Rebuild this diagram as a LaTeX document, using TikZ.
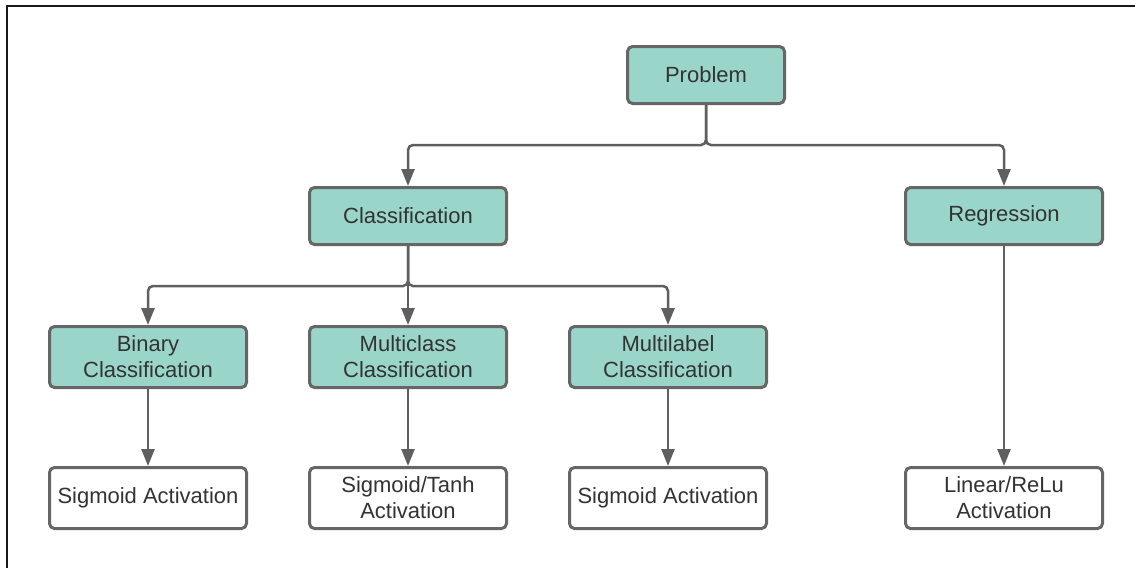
\documentclass[tikz,border=0pt]{standalone}
\usepackage{fontspec}
\setmainfont{Liberation Sans}
\usepackage{xcolor}
\usepackage{tikz}
\usetikzlibrary{trees,arrows.meta}
\definecolor{boxgray}{HTML}{666666}
\definecolor{linegray}{HTML}{5F5F5F}
\definecolor{mint}{HTML}{9AD5CA}
\definecolor{textgray}{HTML}{333333}
\tikzstyle{every node}=[draw=boxgray,line width=3pt,rounded corners=5pt,text=textgray,font=\fontsize{22}{26}\selectfont,align=center,minimum width=197pt,minimum height=61pt]
\tikzstyle{category}=[fill=mint]
\tikzstyle{activation}=[fill=white]
\tikzstyle{straight}=[edge from parent path={(\tikzparentnode.south) -- (\tikzchildnode.north)}]

\begin{document}
\begin{tikzpicture}[
            level distance=141pt,
            level 1/.style={sibling distance=596pt},
            level 2/.style={sibling distance=260pt},
            edge from parent/.style={draw=linegray,line width=2.5pt,rounded corners=5pt,
                -{Triangle[length=17pt,width=13pt]}},
            edge from parent path={(\tikzparentnode.south) -- ++(0,-40pt) -| (\tikzchildnode.north)}
        ]
            \useasboundingbox (0,0) rectangle (1135pt,-568pt);
            \draw [line width=2pt,black!90] (7pt,-568pt) -- (7pt,-5.5pt) -- (1135pt,-5.5pt);
            \node [category,minimum width=157pt,minimum height=57pt] (problem) at (706pt,-75pt) {Problem}
                child { node [category,minimum height=57pt] (classification) {Classification}
                    child { node [category] (binary) {Binary\\Classification}
                        child [straight] { node [activation] (sigbinary) {Sigmoid Activation} }
                    }
                    child [straight] { node [category] (multiclass) {Multiclass\\Classification}
                        child [straight] { node [activation] (sigtanh) {Sigmoid/Tanh\\Activation} }
                    }
                    child { node [category] (multilabel) {Multilabel\\Classification}
                        child [straight] { node [activation] (sigmultilabel) {Sigmoid Activation} }
                    }
                }
                child { node [category,minimum height=57pt] (regression) {Regression}
                    child [straight,level distance=282pt] { node [activation] (linrelu) {Linear/ReLu\\Activation} }
                };
        \end{tikzpicture}
\end{document}
